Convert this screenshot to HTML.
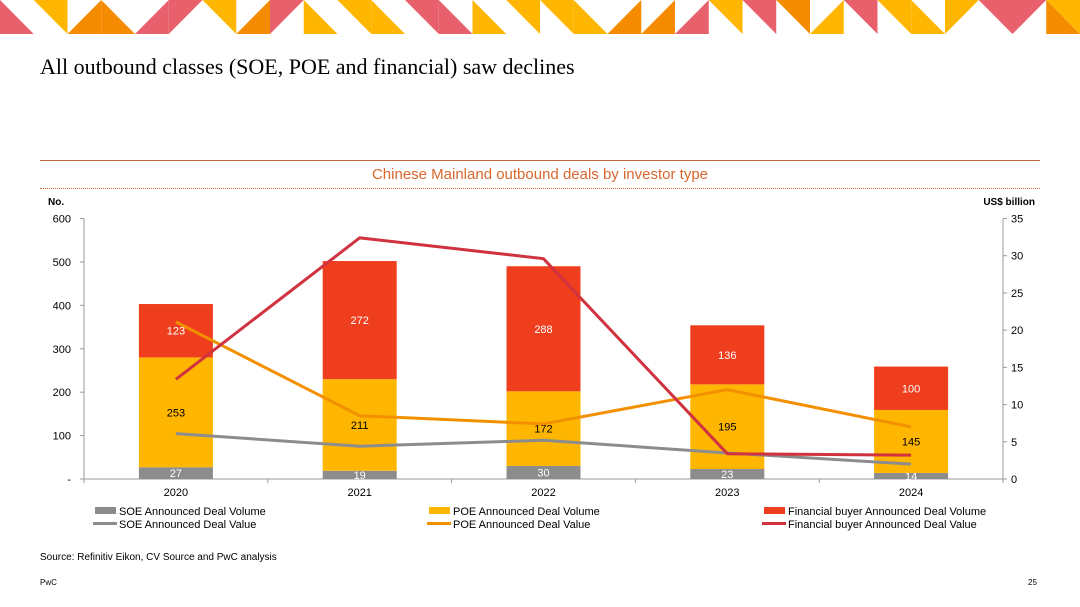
<!DOCTYPE html>
<html><head><meta charset="utf-8"><style>
body{margin:0;width:1080px;height:607px;background:#fff;overflow:hidden;font-family:"Liberation Sans",sans-serif;position:relative}
.a{position:absolute}
</style></head><body>
<svg class="a" style="left:0;top:0" width="1080" height="35" id="banner"></svg>
<div class="a" style="left:40px;top:54px;font-family:'Liberation Serif',serif;font-size:22px;color:#000">All outbound classes (SOE, POE and financial) saw declines</div>
<div class="a" style="left:40px;top:160px;width:1000px;height:1px;background:#c8663a"></div>
<div class="a" style="left:40px;top:166px;width:1000px;text-align:center;font-size:15px;color:#d8672e">Chinese Mainland outbound deals by investor type</div>
<div class="a" style="left:40px;top:188px;width:1000px;border-top:1px dotted #d8672e"></div>
<svg class="a" style="left:0;top:0" width="1080" height="607" id="chart"></svg>
<div class="a" style="left:40px;top:552px;font-size:10px;color:#000">Source: Refinitiv Eikon, CV Source and PwC analysis</div>
<div class="a" style="left:40px;top:578px;font-size:8px;color:#000">PwC</div>
<div class="a" style="left:1028px;top:578px;font-size:8px;color:#000">25</div>
<script>
const years=["2020","2021","2022","2023","2024"];
const soeVol=[27,19,30,23,14];
const poeVol=[253,211,172,195,145];
const finVol=[123,272,288,136,100];
const soeVal=[6.1,4.4,5.2,3.5,2.0];
const poeVal=[21.1,8.5,7.4,12.0,7.0];
const finVal=[13.4,32.4,29.6,3.4,3.2];
const leftTicks=[0,100,200,300,400,500,600];
const rightTicks=[0,5,10,15,20,25,30,35];
const NS="http://www.w3.org/2000/svg";
function mk(p,t,a){const e=document.createElementNS(NS,t);for(const k in a)e.setAttribute(k,a[k]);p.appendChild(e);return e;}
// banner
const Y="#ffb600",O="#f58c00",P="#e8606c";
const cells=[[P,"ll"],[Y,"ur"],[O,"lr"],[O,"ll"],[P,"lr"],[P,"ul"],[Y,"ur"],[O,"lr"],[P,"ul"],[Y,"ll"],[Y,"ur"],[Y,"ll"],[P,"ur"],[P,"ll"],[Y,"ll"],[Y,"ur"],[Y,"ur"],[Y,"ll"],[O,"lr"],[O,"lr"],[P,"lr"],[Y,"ur"],[P,"ur"],[O,"ur"],[Y,"lr"],[P,"ur"],[Y,"ur"],[Y,"ll"],[Y,"ul"],[P,"ur"],[P,"ul"],[O,"ll"]];
const bn=document.getElementById('banner');const cw=1080/32,ch=34;
cells.forEach((c,i)=>{const x0=i*cw,x1=x0+cw;let pts;
if(c[1]=="ll")pts=[[x0,0],[x0,ch],[x1,ch]];else if(c[1]=="ur")pts=[[x0,0],[x1,0],[x1,ch]];else if(c[1]=="lr")pts=[[x1,0],[x1,ch],[x0,ch]];else pts=[[x0,0],[x1,0],[x0,ch]];
const t=mk(bn,"polygon",{points:pts.map(p=>p.join(",")).join(" "),fill:c[0]});

});
if(true){const t=mk(bn,"polygon",{points:`${31*cw},0 1080,0 1080,${ch}`,fill:Y});}
// chart
const s=document.getElementById('chart');
const X0=84,X1=1003,YT=218.5,YB=479;
const yl=v=>YB-v/600*(YB-YT), yr=v=>YB-v/35*(YB-YT);
const step=(X1-X0)/years.length, xc=i=>X0+step*(i+0.5), bw=74;
function txt(x,y,str,o){const t=mk(s,"text",Object.assign({x:x,y:y,"font-size":11,fill:"#000","font-family":"Liberation Sans, sans-serif"},o||{}));t.textContent=str;return t;}
let e=mk(s,"line",{x1:X0,y1:YT,x2:X0,y2:YB,stroke:"#999"});
e=mk(s,"line",{x1:X1,y1:YT,x2:X1,y2:YB,stroke:"#999"});
e=mk(s,"line",{x1:X0,y1:YB,x2:X1,y2:YB,stroke:"#999"});
leftTicks.forEach(v=>{mk(s,"line",{x1:X0-4,y1:yl(v),x2:X0,y2:yl(v),stroke:"#999"});const t=txt(X0-13,yl(v)+4,v==0?"-":String(v),{"text-anchor":"end"});});
rightTicks.forEach(v=>{mk(s,"line",{x1:X1,y1:yr(v),x2:X1+4,y2:yr(v),stroke:"#999"});const t=txt(X1+8,yr(v)+4,String(v));});
for(let i=0;i<=years.length;i++)mk(s,"line",{x1:X0+step*i,y1:YB,x2:X0+step*i,y2:YB+4,stroke:"#999"});
e=txt(48,205,"No.",{"font-weight":"bold","font-size":10});
e=txt(1035,205,"US$ billion",{"font-weight":"bold","font-size":10,"text-anchor":"end"});
years.forEach((y,i)=>{const x=xc(i);
const t=txt(x,496,y,{"text-anchor":"middle"});
let b=0;[[soeVol,"#8c8c8c","#fff","soe"],[poeVol,"#ffb600","#000","poe"],[finVol,"#ef3e1e","#fff","fin"]].forEach(sr=>{const v=sr[0][i];
const r=mk(s,"rect",{x:x-bw/2,y:yl(b+v),width:bw,height:yl(b)-yl(b+v),fill:sr[1]});

const l=txt(x,(yl(b)+yl(b+v))/2+4,String(v),{"text-anchor":"middle",fill:sr[2]});
b+=v;});});
[[soeVal,"#8c8c8c","soe"],[poeVal,"#f39000","poe"],[finVal,"#d0323f","fin"]].forEach(sr=>{
const p=mk(s,"polyline",{points:sr[0].map((v,i)=>xc(i)+","+yr(v)).join(" "),fill:"none",stroke:sr[1],"stroke-width":3});
});
const leg=[[95,511,"#8c8c8c","SOE Announced Deal Volume",0],[429,511,"#ffb600","POE Announced Deal Volume",0],[764,511,"#ef3e1e","Financial buyer Announced Deal Volume",0],
[95,524,"#8c8c8c","SOE Announced Deal Value",1],[429,524,"#f39000","POE Announced Deal Value",1],[764,524,"#d0323f","Financial buyer Announced Deal Value",1]];
leg.forEach(l=>{const g=mk(s,"g",{});
if(l[4])mk(g,"rect",{x:l[0]-2,y:l[1]-2,width:24,height:3,fill:l[2]});else mk(g,"rect",{x:l[0],y:l[1]-4,width:21,height:7,fill:l[2]});
const t=mk(g,"text",{x:l[0]+24,y:l[1]+4,"font-size":11,fill:"#000","font-family":"Liberation Sans, sans-serif"});t.textContent=l[3];});
</script>
</body></html>
